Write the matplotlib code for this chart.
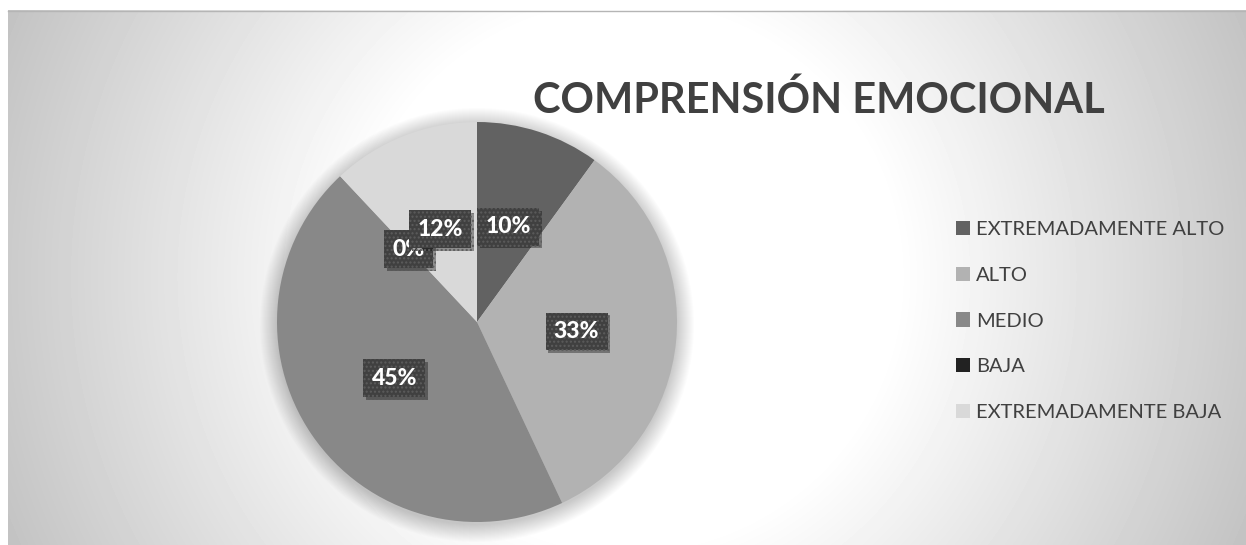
import numpy as np
import matplotlib.pyplot as plt
from matplotlib import patheffects as pe
from matplotlib.patches import Circle

# datos del gráfico
categorias = ['EXTREMADAMENTE ALTO', 'ALTO', 'MEDIO', 'BAJA', 'EXTREMADAMENTE BAJA']
porcentajes = [10, 33, 45, 0, 12]
colores = ['#626262', '#b2b2b2', '#888888', '#222222', '#d9d9d9']
titulo = 'COMPRENSIÓN EMOCIONAL'

plt.rcParams['font.family'] = ['Lato', 'DejaVu Sans']
plt.rcParams['hatch.linewidth'] = 1.0

W, H = 1246, 545
fig = plt.figure(figsize=(W / 100, H / 100), dpi=100)
ax = fig.add_axes([0, 0, 1, 1])

# fondo con degradado radial (blanco en el centro, gris en las esquinas)
xx, yy = np.meshgrid(np.arange(8, W) + 0.5, np.arange(10, H) + 0.5)
r = np.hypot(xx - 627, yy - 277)
g = np.clip(1 - 0.235 * (r - 270) / 400, 0, 1)
ax.imshow(g, cmap='gray', vmin=0, vmax=1, extent=(8, W, 0, H - 10),
          origin='upper', interpolation='bilinear', zorder=0)
ax.plot([8, W], [H - 10.5, H - 10.5], color='#b5b5b5', lw=1, zorder=1)

# centro y radio del pastel (en pixeles)
cx, cy, rad = 477, H - 322, 200

# sombra suave alrededor del pastel
for k in range(18):
    ax.add_patch(Circle((cx, cy - 3), rad + k, color='black', alpha=0.01, lw=0, zorder=1))

wedges, textos, autotextos = ax.pie(
    porcentajes, colors=colores, startangle=90, counterclock=False,
    center=(cx, cy), radius=rad, autopct='%1.0f%%', pctdistance=0.5,
    wedgeprops=dict(linewidth=0, zorder=2), frame=True,
    textprops=dict(color='white', fontsize=16.5, fontweight='black'))

for t in autotextos:
    t.set_zorder(5)
    t.set_bbox(dict(boxstyle='square,pad=0.36', fc='#404040', ec='#5c5c5c', lw=0, hatch='....'))
    t.get_bbox_patch().set_path_effects([
        pe.SimplePatchShadow(offset=(2, -2), shadow_rgbFace='black', alpha=0.35), pe.Normal()])

# leyenda
ax.legend(wedges, categorias, loc='center left', bbox_to_anchor=(956, cy + 1),
          bbox_transform=ax.transData, frameon=False, fontsize=14.5,
          handlelength=0.7, handleheight=0.7, handletextpad=0.3,
          labelspacing=1.43, borderpad=0, borderaxespad=0, labelcolor='#404040')

# titulo
tt = ax.text(533, H - 113, titulo, fontsize=30, fontweight='bold', color='#404040',
             ha='left', va='baseline', zorder=6)
fig.canvas.draw()
w = tt.get_window_extent().width
tt.set_fontsize(30 * 572 / w)

ax.set_xlim(0, W)
ax.set_ylim(0, H)
ax.set_aspect('auto')
ax.axis('off')

fig.savefig('out.png', dpi=100, facecolor='white')
